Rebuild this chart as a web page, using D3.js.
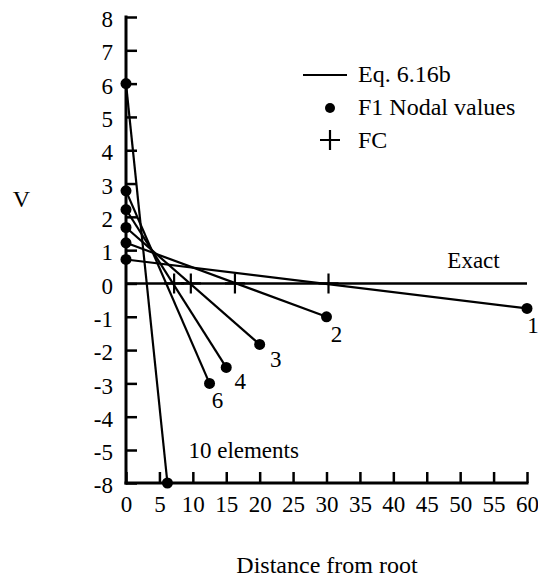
<!DOCTYPE html>
<html><head><meta charset="utf-8">
<script src="https://cdn.jsdelivr.net/npm/d3@7"></script>
<style>
body{margin:0;background:#fff;}
svg text{font-family:"Liberation Serif","Times New Roman",Times,serif !important;fill:#000;}
</style></head>
<body><svg id="c" width="538" height="579"></svg>
<script>
// Number of elements for each F1 solution
const elements = ["1","2","3","4","6","10 elements"];
// Nodal values at the root (x = 0)
const rootValues = [0.72, 1.22, 1.68, 2.22, 2.78, 6.0];
// End points (distance, value)
const endX = [60, 30, 20, 15, 12.5, 6.2];
const endValues = [-0.75, -1.0, -1.83, -2.52, -3.0, -8.0];
// FC points on the exact (zero) line
const fcX = [7.2, 9.7, 16.3, 30.3];
// Exact solution
const exactX = [0, 60];
const exactV = [0, 0];
// Tick labels
const xTicks = [0,5,10,15,20,25,30,35,40,45,50,55,60];
const yTicks = [-8,-5,-4,-3,-2,-1,0,1,2,3,4,5,6,7,8];
const legendItems = ["Eq. 6.16b","F1 Nodal values","FC"];

const FONT = '"Liberation Serif","Times New Roman",Times,serif';
const svg = d3.select("#c");
const x = d3.scaleLinear().domain([0,60]).range([126,527]);
// broken axis: -8 sits directly below -5 (one unit gap)
const y = d3.scaleLinear().domain([-8,-5,8]).range([483,450,17]);

const fs = 23;
// Axes
const gx = svg.append("g").attr("transform",`translate(0,${y(-8)})`)
  .call(d3.axisBottom(x).tickValues(xTicks).tickSizeInner(-11).tickSizeOuter(0).tickPadding(13).tickFormat(d=>String(d)));
const gy = svg.append("g").attr("transform",`translate(${x(0)},0)`)
  .call(d3.axisLeft(y).tickValues(yTicks).tickSizeInner(-11).tickSizeOuter(0).tickPadding(13).tickFormat(d=>String(d)));
[gx,gy].forEach(g=>{
  g.attr("font-family",FONT).attr("font-size",fs);
  g.select(".domain").attr("stroke","#000").attr("stroke-width",3);
  g.selectAll(".tick line").attr("stroke","#000").attr("stroke-width",2.5);
  g.selectAll(".tick text").attr("font-size",fs).style("font-family",FONT);
});
gx.selectAll(".tick text").attr("dy","0.71em");
gy.selectAll(".tick text").attr("dy","0.42em");
gy.select(".domain").attr("d",`M0,${y(8)-1.5}V${y(-8)+1.5}`);
gx.select(".domain").attr("d",`M${x(0)-1.5},0H${x(60)+1.5}`);

// Exact line
svg.append("path").attr("d",d3.line()(exactX.map((d,i)=>[x(d),y(exactV[i])])))
  .attr("stroke","#000").attr("stroke-width",2.5).attr("fill","none");
svg.append("text").attr("x",x(52)).attr("y",y(0)-15).attr("text-anchor","middle")
  .attr("font-size",fs).style("font-family",FONT).text("Exact");

// FC crosses
const plus = (g,cx,cy,r)=>g.append("path").attr("d",`M${cx-r},${cy}H${cx+r}M${cx},${cy-r}V${cy+r}`)
  .attr("stroke","#000").attr("stroke-width",2.2).attr("fill","none");
fcX.forEach(d=>plus(svg,x(d),y(0),10));

// F1 lines
const line = d3.line();
elements.forEach((e,i)=>{
  svg.append("path").attr("d",line([[x(0),y(rootValues[i])],[x(endX[i]),y(endValues[i])]]))
    .attr("stroke","#000").attr("stroke-width",2.2).attr("fill","none");
});
elements.forEach((e,i)=>{
  svg.append("circle").attr("cx",x(0)).attr("cy",y(rootValues[i])).attr("r",5.5).attr("fill","#000");
  svg.append("circle").attr("cx",x(endX[i])).attr("cy",y(endValues[i])).attr("r",5.5).attr("fill","#000");
});
// labels
const labelOff = [[6,25,"middle"],[10,25,"middle"],[16,23,"middle"],[14,22,"middle"],[8,25,"middle"],[21,-25,"start"]];
elements.forEach((e,i)=>{
  svg.append("text").attr("x",x(endX[i])+labelOff[i][0]).attr("y",y(endValues[i])+labelOff[i][1])
    .attr("text-anchor",labelOff[i][2]).attr("font-size",fs).style("font-family",FONT).text(e);
});

// Legend
const lg = svg.append("g");
lg.append("line").attr("x1",303).attr("x2",347).attr("y1",75).attr("y2",75).attr("stroke","#000").attr("stroke-width",2.2);
lg.append("circle").attr("cx",330).attr("cy",108).attr("r",5).attr("fill","#000");
plus(lg,330,140,10);
legendItems.forEach((t,i)=>{
  lg.append("text").attr("x",358).attr("y",82+i*33).attr("font-size",fs+1).style("font-family",FONT).text(t);
});

// Axis titles
svg.append("text").attr("x",21.5).attr("y",207).attr("text-anchor","middle").attr("font-size",24).style("font-family",FONT).text("V");
svg.append("text").attr("x",327).attr("y",573).attr("text-anchor","middle").attr("font-size",24).style("font-family",FONT).text("Distance from root");
</script></body></html>
